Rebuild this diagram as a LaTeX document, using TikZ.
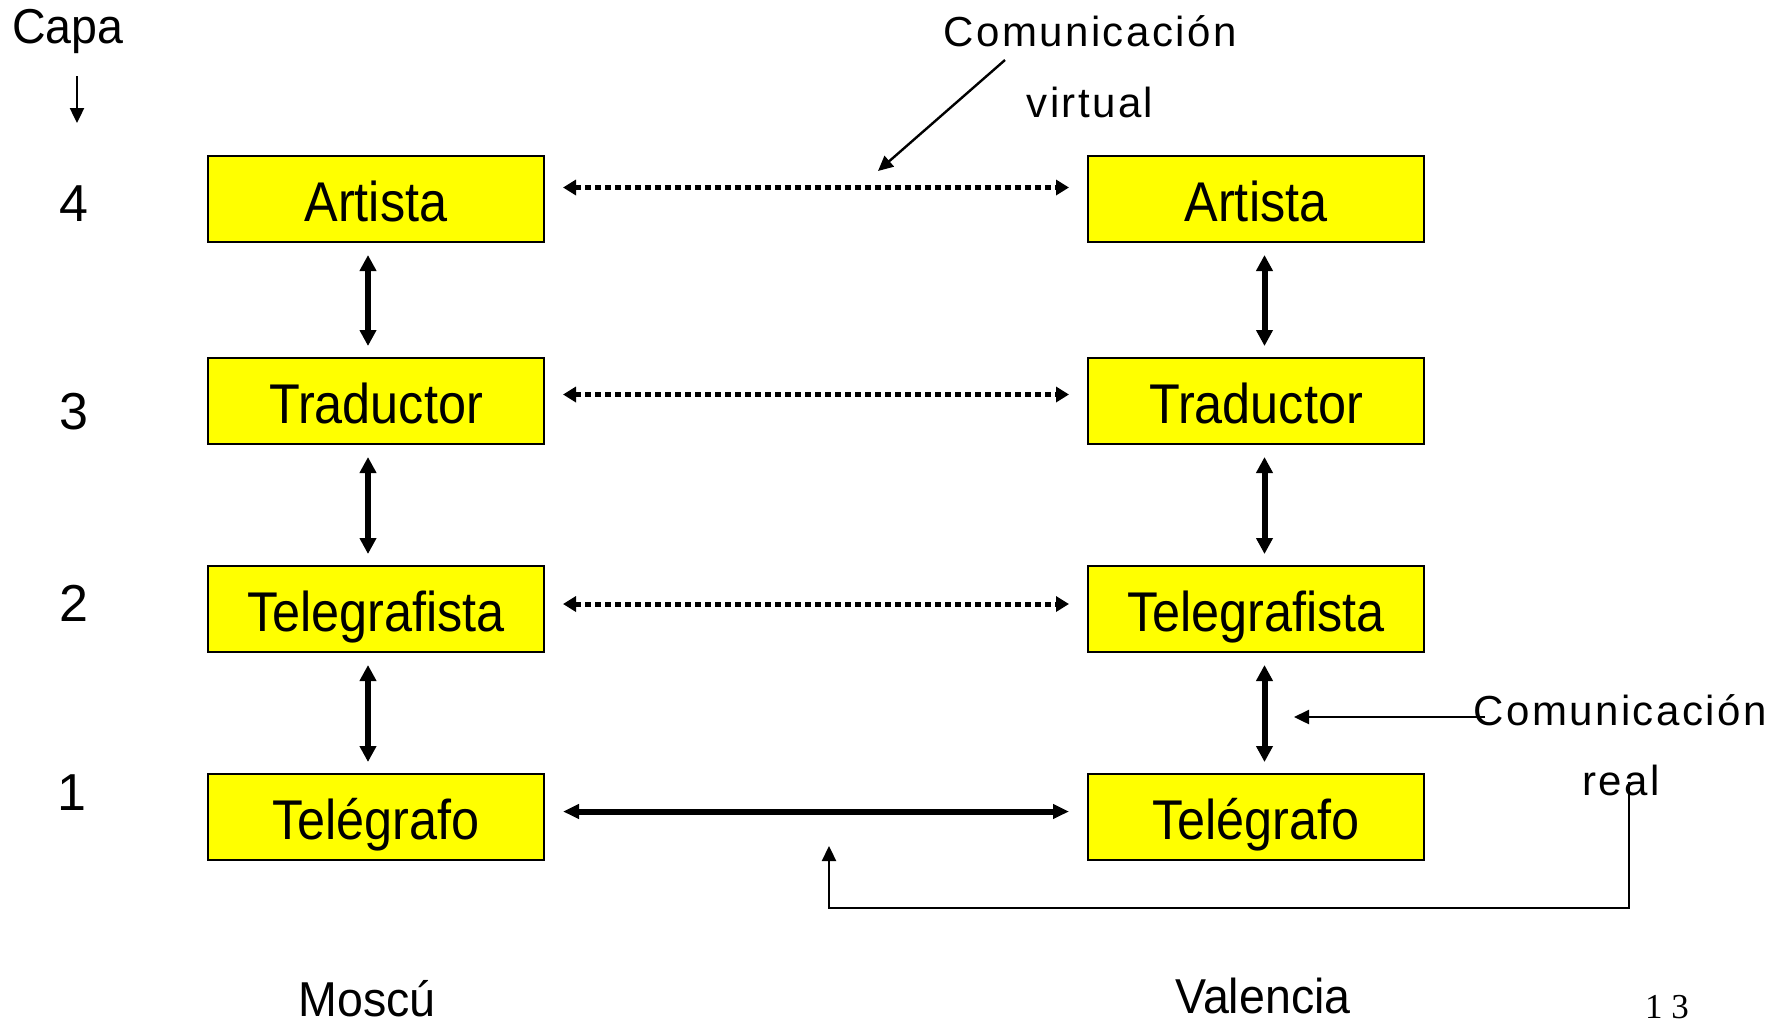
\documentclass[tikz,border=0pt]{standalone}
\usepackage{fontspec}
\setmainfont{Liberation Sans}
\newfontfamily\boxfont[FakeStretch=0.9]{Liberation Sans}
\newfontfamily\sidefont[FakeStretch=0.95]{Liberation Sans}
\newfontfamily\spacedfont[LetterSpace=5.8]{Liberation Sans}
\newfontfamily\pagefont[LetterSpace=25]{Liberation Serif}
\usetikzlibrary{arrows.meta}
\definecolor{capayellow}{RGB}{255,255,0}

\begin{document}
\begin{tikzpicture}[x=0.5pt, y=-0.5pt,
		capa/.style={draw, line width=1pt, fill=capayellow, minimum width=168pt, minimum height=43pt,
			inner sep=0pt, text height=22.7pt, text depth=0pt, font=\boxfont\fontsize{28}{28}\selectfont},
		side/.style={anchor=base, inner sep=0pt, font=\sidefont\fontsize{24.5}{24.5}\selectfont},
		num/.style={anchor=base, inner sep=0pt, font=\fontsize{26}{26}\selectfont},
		note/.style={anchor=base, inner sep=0pt, font=\spacedfont\fontsize{21}{21}\selectfont},
		virt/.style={{Triangle[length=6.5pt,width=7.5pt]}-{Triangle[length=6.5pt,width=7.5pt]},
			line width=2.5pt, dash pattern=on 3pt off 2pt, shorten <=9pt, shorten >=9pt},
		real/.style={{Triangle[length=8pt,width=7pt]}-{Triangle[length=8pt,width=7pt]},
			line width=3pt, shorten <=9pt, shorten >=9pt},
		updown/.style={{Triangle[length=8pt,width=8pt]}-{Triangle[length=8pt,width=8pt]},
			line width=3pt, shorten <=6pt, shorten >=5.5pt},
		thin/.style={line width=1.2pt, -{Triangle[length=7.5pt,width=7pt]}}]
	\useasboundingbox (0,0) rectangle (1774,1025);
	
	%layers
	\node[side] (capa) at (68,43) {Capa};
	\coordinate (capatop) at (77,76);
	\coordinate (capabot) at (77,123);
	\draw[thin] (capatop) -- (capabot);
	\node[num] (n4) at (74,221.5) {4};
	\node[num] (n3) at (74,429.5) {3};
	\node[num] (n2) at (74,621.5) {2};
	\node[num] (n1) at (72,810) {1};
	
	%boxes
	\foreach \n/\y/\t in {4/199/Artista, 3/401/Traductor, 2/609/Telegrafista, 1/817/Telégrafo}{
		\node[capa] (m\n) at (376,\y) {\t};
		\node[capa] (v\n) at (1256,\y) {\t};
	}
	
	%vertical arrows
	\foreach \a/\b in {4/3, 3/2, 2/1}{
		\draw[updown] ([xshift=-4pt]m\a.south) -- ([xshift=-4pt]m\b.north);
		\draw[updown] ([xshift=4.25pt]v\a.south) -- ([xshift=4.25pt]v\b.north);
	}
	
	%peer arrows
	\draw[virt] ([yshift=5.75pt]m4.east) -- ([yshift=5.75pt]v4.west);
	\draw[virt] ([yshift=3.25pt]m3.east) -- ([yshift=3.25pt]v3.west);
	\draw[virt] ([yshift=2.5pt]m2.east) -- ([yshift=2.5pt]v2.west);
	\draw[real] ([yshift=2.75pt]m1.east) -- ([yshift=2.75pt]v1.west);
	
	%virtual
	\node[note] (cvirt) at (1090,46) {Comunicación};
	\node[note] (virtual) at (1090,117) {virtual};
	\coordinate (vfrom) at (1005,60);
	\coordinate (vto) at (878,171);
	\draw[thin] (vfrom) -- (vto);
	
	%real
	\node[note] (creal) at (1620,725) {Comunicación};
	\node[note] (realtxt) at (1621,795) {real};
	\coordinate (rfrom) at (1485,717);
	\coordinate (rto) at (1294,717);
	\draw[thin] (rfrom) -- (rto);
	\coordinate (wire) at (1629,782);
	\coordinate (wireend) at (829,846);
	\draw[thin] (wire) |- (1229,908) -| (wireend);
	
	%cities
	\node[side] (moscu) at (367,1016) {Moscú};
	\node[side] (valencia) at (1263,1013) {Valencia};
	\node[anchor=base, inner sep=0pt, font=\pagefont\fontsize{17.5}{17.5}\selectfont] (page) at (1667,1018) {13};
\end{tikzpicture}
\end{document}
